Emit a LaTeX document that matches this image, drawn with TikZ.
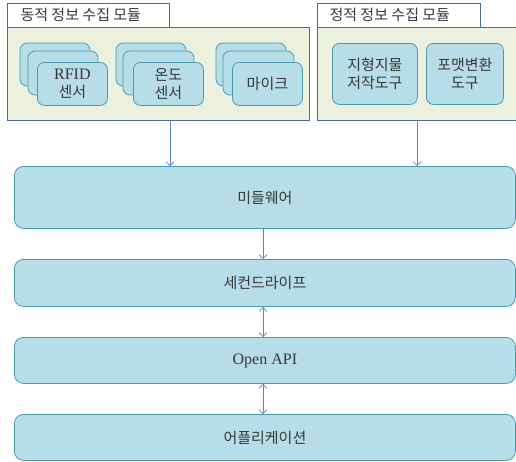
\documentclass[tikz,border=0pt]{standalone}
\usepackage{fontspec}
\setmainfont{Liberation Serif}
\newfontfamily\cjk{Noto Sans CJK KR}
\usetikzlibrary{arrows.meta}
\definecolor{cardfill}{HTML}{B7DDE8}
\definecolor{carddraw}{HTML}{4A9AB0}
\definecolor{modfill}{HTML}{EBF0DF}
\definecolor{moddraw}{HTML}{4F6A8F}
\definecolor{arrowc}{HTML}{5A86C5}
\tikzset{
  card/.style={draw=carddraw, fill=cardfill, rounded corners=7pt, line width=0.8pt},
  layer/.style={draw=carddraw, fill=cardfill, rounded corners=9pt, line width=0.8pt},
  modbox/.style={draw=moddraw, fill=modfill, line width=0.8pt},
  titlebox/.style={draw=moddraw, fill=white, line width=0.8pt},
  conn/.style={draw=arrowc, line width=0.7pt, -{Straight Barb[length=4pt,width=8pt]}},
  bconn/.style={draw=arrowc, line width=0.7pt, {Straight Barb[length=4pt,width=8pt]}-{Straight Barb[length=4pt,width=8pt]}},
  lbl/.style={font=\cjk\fontsize{15}{18}\selectfont, text=black!78, align=center},
  ttl/.style={font=\cjk\fontsize{15}{18}\selectfont, text=black!78},
}
\begin{document}
\begin{tikzpicture}[x=1pt,y=-1pt]
\useasboundingbox (0,0) rectangle (516,461);
% modules
\draw[modbox] (7,27) rectangle (309,120);
\node[titlebox, minimum width=162pt, minimum height=24pt, anchor=north west, inner sep=0pt] (t1) at (7,3) {};
\node[ttl, anchor=west] at (17,15) {동적\ 정보\ 수집\ 모듈};
\coordinate (m1) at (170,120);
\draw[modbox] (317,27) rectangle (516,120);
\node[titlebox, minimum width=163pt, minimum height=24pt, anchor=north west, inner sep=0pt] (t2) at (317,3) {};
\node[ttl, anchor=west] at (326,15) {정적\ 정보\ 수집\ 모듈};
\coordinate (m2) at (417,120);
% RFID stack
\draw[card] (20,43) rectangle (90,86);
\draw[card] (28,51) rectangle (98,95);
\node[card, minimum width=70pt, minimum height=43pt, inner sep=0pt, anchor=north west] (rfid) at (37,62) {};
\node[lbl] at (rfid.center) {{\fontspec{Liberation Serif}\fontsize{16}{18}\selectfont RFID}\\센서};
% temperature stack
\draw[card] (116,43) rectangle (186,86);
\draw[card] (123,51) rectangle (194,95);
\node[card, minimum width=70pt, minimum height=43pt, inner sep=0pt, anchor=north west] (temp) at (133,62) {};
\node[lbl] at (temp.center) {온도\\센서};
% mic stack
\draw[card] (216,43) rectangle (286,86);
\draw[card] (223,51) rectangle (294,95);
\node[card, minimum width=70pt, minimum height=43pt, inner sep=0pt, anchor=north west] (mic) at (232,62) {};
\node[lbl] at (mic.center) {마이크};
% static tools
\node[card, minimum width=85pt, minimum height=61pt, inner sep=0pt, anchor=north west] (terr) at (332,43) {};
\node[lbl] at (terr.center) {지형지물\\저작도구};
\node[card, minimum width=77pt, minimum height=61pt, inner sep=0pt, anchor=north west] (fmt) at (426,43) {};
\node[lbl] at (fmt.center) {포맷변환\\도구};
% layers
\node[layer, minimum width=501pt, minimum height=62pt, inner sep=0pt, anchor=north west] (mw) at (14,166) {};
\node[lbl] at (mw.center) {미들웨어};
\node[layer, minimum width=501pt, minimum height=47pt, inner sep=0pt, anchor=north west] (sl) at (14,259) {};
\node[lbl] at (sl.center) {세컨드라이프};
\node[layer, minimum width=501pt, minimum height=46pt, inner sep=0pt, anchor=north west] (api) at (14,337) {};
\node[font=\fontsize{16}{18}\selectfont, text=black!78] at (api.center) {Open API};
\node[layer, minimum width=501pt, minimum height=46pt, inner sep=0pt, anchor=north west] (app) at (14,414) {};
\node[lbl] at (app.center) {어플리케이션};
% connectors
\draw[conn] (m1) -- (m1 |- mw.north);
\draw[conn] (m2) -- (m2 |- mw.north);
\coordinate (cx) at (263,0);
\draw[conn] (cx |- mw.south) -- (cx |- sl.north);
\draw[bconn] (cx |- sl.south) -- (cx |- api.north);
\draw[bconn] (cx |- api.south) -- (cx |- app.north);
\end{tikzpicture}
\end{document}
